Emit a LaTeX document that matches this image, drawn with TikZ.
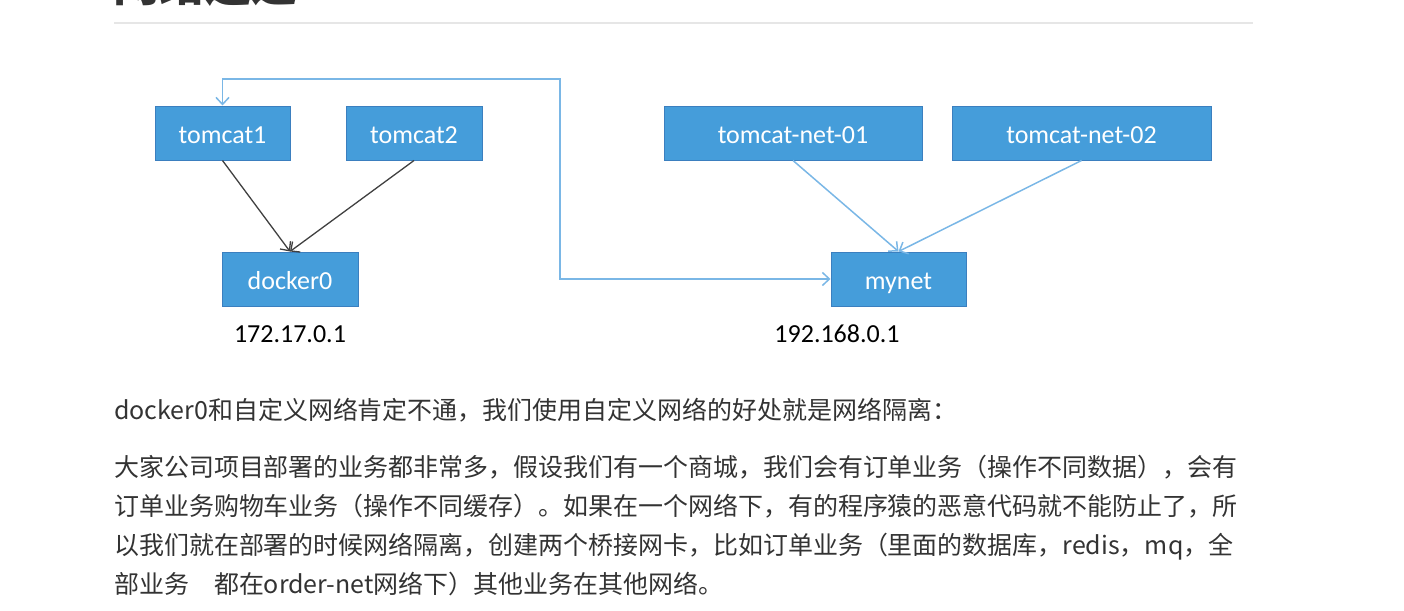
\documentclass[tikz,border=0pt]{standalone}
\usepackage{fontspec}
\setmainfont{Carlito}
\newfontfamily\cjk{Noto Sans CJK SC}
\usetikzlibrary{arrows.meta}
\definecolor{boxfill}{HTML}{459DDA}
\definecolor{boxline}{HTML}{3B7FBF}
\definecolor{linkblue}{HTML}{7AB7E6}
\definecolor{darkarrow}{HTML}{404040}
\definecolor{bodytext}{HTML}{333333}
\definecolor{rulegray}{HTML}{E6E6E6}
\tikzset{
  netbox/.style={draw=boxline, line width=1pt, fill=boxfill, text=white,
    minimum height=54pt, inner sep=0pt, text height=20pt, text depth=0pt,
    font=\fontsize{26}{30}\selectfont},
  iplabel/.style={anchor=base, inner sep=0pt, text=black, font=\fontsize{26}{30}\selectfont},
  bodyline/.style={anchor=base west, inner sep=0pt, text=bodytext, font=\cjk\fontsize{24.96}{30}\selectfont},
  darklink/.style={draw=darkarrow, line width=1.3pt, -{Straight Barb[length=7pt,width=13pt,line width=1.3pt]}},
  bluelink/.style={draw=linkblue, line width=1.5pt, -{Straight Barb[length=7pt,width=13pt,line width=1.5pt]}},
}
\begin{document}
\begin{tikzpicture}[x=1pt,y=-1pt]
\useasboundingbox (0,0) rectangle (1404,610);
% cut heading
\node[anchor=base west, inner sep=0pt, text=bodytext, font=\cjk\bfseries\fontsize{46}{50}\selectfont] (head) at (113,1.5) {网络连通};
\draw[rulegray, line width=1.5pt] (114,23) -- (1253,23);
% boxes
\node[netbox, minimum width=135pt] (t1) at (222.5,133) {tomcat1};
\node[netbox, minimum width=136pt] (t2) at (414,133) {tomcat2};
\node[netbox, minimum width=136pt] (d0) at (290,279) {docker0};
\node[netbox, minimum width=258pt] (n1) at (793,133) {tomcat-net-01};
\node[netbox, minimum width=259pt] (n2) at (1081.5,133) {tomcat-net-02};
\node[netbox, minimum width=135pt] (my) at (898.5,279) {mynet};
% ip labels
\node[iplabel] (ip1) at (290,342) {172.17.0.1};
\node[iplabel] (ip2) at (837,342) {192.168.0.1};
% arrows
\draw[darklink] (t1.south) -- (d0.north);
\draw[darklink] (t2.south) -- (d0.north);
\draw[bluelink] (n1.south) -- (my.north);
\draw[bluelink] (n2.south) -- (my.north);
\coordinate (bend) at (560,79);
\draw[bluelink, {Straight Barb[length=7pt,width=13pt,line width=1.5pt]}-{Straight Barb[length=7pt,width=13pt,line width=1.5pt]}] (t1.north) |- (bend) |- (my.west);
% body text
\node[bodyline] (p1) at (114,419) {docker0和自定义网络肯定不通，我们使用自定义网络的好处就是网络隔离：};
\node[bodyline] (p2) at (114,476) {大家公司项目部署的业务都非常多，假设我们有一个商城，我们会有订单业务（操作不同数据），会有};
\node[bodyline] (p3) at (114,515) {订单业务购物车业务（操作不同缓存）。如果在一个网络下，有的程序猿的恶意代码就不能防止了，所};
\node[bodyline] (p4) at (114,554) {以我们就在部署的时候网络隔离，创建两个桥接网卡，比如订单业务（里面的数据库，redis，mq，全};
\node[bodyline] (p5) at (114,593) {部业务\quad 都在order-net网络下）其他业务在其他网络。};
\end{tikzpicture}
\end{document}
